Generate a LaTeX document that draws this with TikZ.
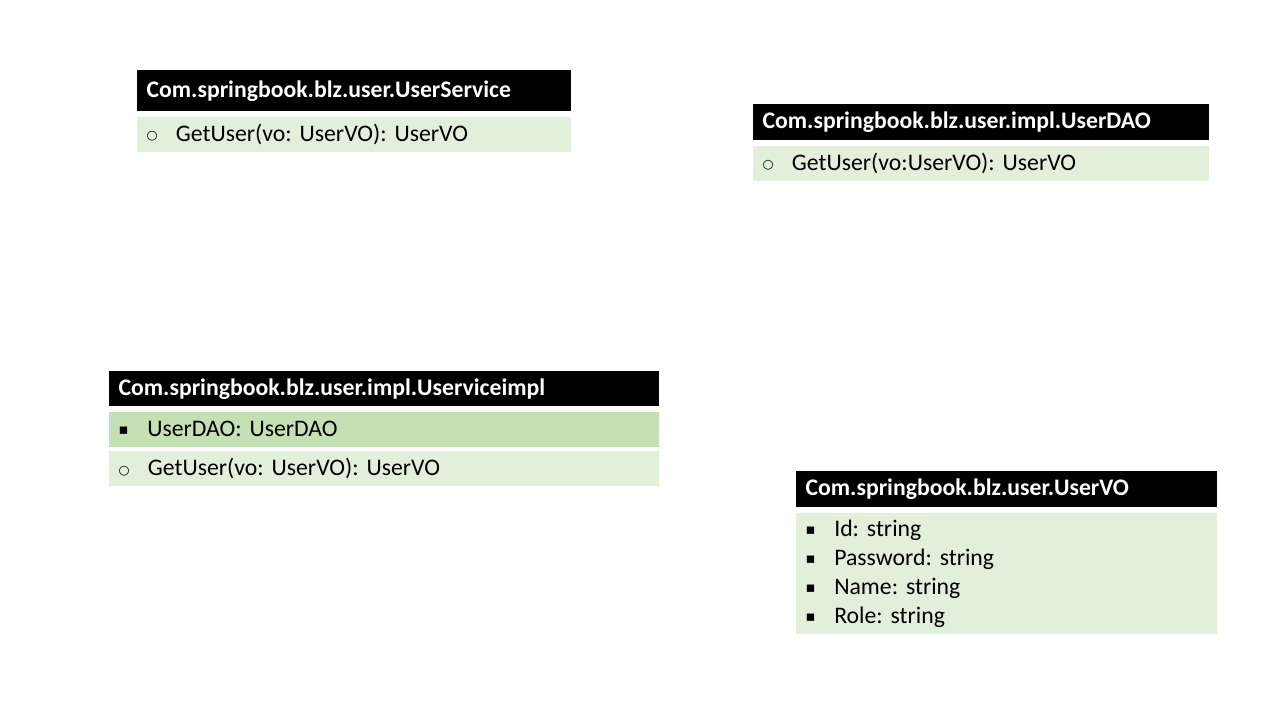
\documentclass[tikz,border=0pt]{standalone}
\usepackage{fontspec}
\setmainfont{Carlito}
\newfontfamily\symfont{DejaVu Sans}
\usetikzlibrary{positioning}
\definecolor{rowlight}{HTML}{E2EFDA}
\definecolor{rowdark}{HTML}{C5E0B4}
\frenchspacing

\newcommand{\opbullet}{\makebox[22pt][l]{\raisebox{1pt}{\symfont\fontsize{9.5}{9}\selectfont ○}}}
\newcommand{\attrbullet}{\makebox[21.5pt][l]{\raisebox{1.5pt}{\symfont\fontsize{11}{9}\selectfont ▪}}}

\begin{document}
\begin{tikzpicture}[x=0.75pt,y=-0.75pt]
  \tikzset{
    classhead/.style={anchor=north west, fill=black, text=white,
      font=\bfseries\fontsize{17.8}{21}\selectfont,
      inner xsep=7pt, inner ysep=0pt, align=left, text width=#1},
    classrow/.style={anchor=north west, fill=rowlight,
      font=\fontsize{17.8}{21.75}\selectfont,
      inner xsep=7pt, inner ysep=0pt, align=left, text width=#1}
  }
  \useasboundingbox (0,0) rectangle (1280,720);

  % UserService
  \node[classhead=311pt, minimum height=30.75pt] (svc_head) at (137,70)
    {Com.springbook.blz.user.UserService};
  \node[classrow=311pt, minimum height=26.25pt,
        below right=3.75pt and 0pt of svc_head.south west] (svc_ops)
    {\opbullet GetUser(vo: UserVO): UserVO};

  % UserDAO
  \node[classhead=328pt, minimum height=27pt] (dao_head) at (753,104)
    {Com.springbook.blz.user.impl.UserDAO};
  \node[classrow=328pt, minimum height=26.25pt,
        below right=3.75pt and 0pt of dao_head.south west] (dao_ops)
    {\opbullet GetUser(vo:UserVO): UserVO};

  % Userviceimpl
  \node[classhead=398.5pt, minimum height=26.25pt] (impl_head) at (109,371)
    {Com.springbook.blz.user.impl.Userviceimpl};
  \node[classrow=398.5pt, fill=rowdark, minimum height=26.25pt,
        below right=3.75pt and 0pt of impl_head.south west] (impl_attr)
    {\attrbullet UserDAO: UserDAO};
  \node[classrow=398.5pt, minimum height=26.25pt,
        below right=3pt and 0pt of impl_attr.south west] (impl_ops)
    {\opbullet GetUser(vo: UserVO): UserVO};

  % UserVO
  \node[classhead=301.75pt, minimum height=27pt] (vo_head) at (796,471)
    {Com.springbook.blz.user.UserVO};
  \node[classrow=301.75pt, minimum height=90.75pt,
        below right=3.75pt and 0pt of vo_head.south west] (vo_attr)
    {\attrbullet Id: string\\
     \attrbullet Password: string\\
     \attrbullet Name: string\\
     \attrbullet Role: string};
\end{tikzpicture}
\end{document}
